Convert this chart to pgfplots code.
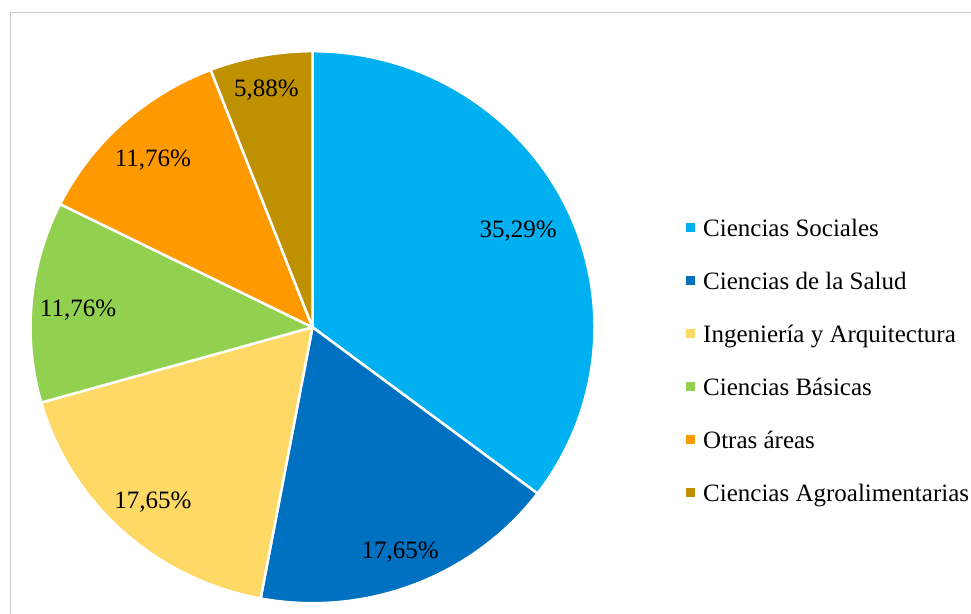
\documentclass[border=0pt]{standalone}
\usepackage{fontspec}
\setmainfont{Liberation Serif}
\usepackage{pgfplots}
\usepackage{pgfplotstable}
\pgfplotsset{compat=1.18}

\definecolor{c0}{HTML}{00B0F0}
\definecolor{c1}{HTML}{0070C0}
\definecolor{c2}{HTML}{FFD966}
\definecolor{c3}{HTML}{92D050}
\definecolor{c4}{HTML}{FF9900}
\definecolor{c5}{HTML}{BF9000}

% name, share in percent, label distance (fraction of radius)
\pgfplotstableread[col sep=comma]{
name,value,lr
Ciencias Sociales,35.29,0.815
Ciencias de la Salud,17.65,0.86
Ingeniería y Arquitectura,17.65,0.84
Ciencias Básicas,11.76,0.835
Otras áreas,11.76,0.84
Ciencias Agroalimentarias,5.88,0.89
}\piedata

\begin{document}
\begin{tikzpicture}
\begin{axis}[
  width=971bp, height=614bp, scale only axis,
  xmin=0, xmax=971, ymin=0, ymax=614, y dir=reverse,
  hide axis, clip=false,
]
\pgfplotsextra{
  \coordinate (BL) at (axis cs:0,614);
  \coordinate (TR) at (axis cs:971,0);
  \draw[gray!40, line width=1.5bp] (axis cs:10.5,614) -- (axis cs:10.5,12.5) -- (axis cs:971,12.5);
  % total
  \def\tot{0}
  \pgfplotsforeachungrouped \i in {0,...,5}{%
    \pgfplotstablegetelem{\i}{value}\of\piedata
    \pgfmathsetmacro\tot{\tot+\pgfplotsretval}%
  }%
  \def\cum{0}
  \pgfplotsforeachungrouped \i in {0,...,5}{%
    \pgfplotstablegetelem{\i}{value}\of\piedata \let\val\pgfplotsretval
    \pgfplotstablegetelem{\i}{lr}\of\piedata \let\lr\pgfplotsretval
    \pgfplotstablegetelem{\i}{name}\of\piedata \let\nm\pgfplotsretval
    \pgfmathsetmacro\sa{90-\cum/\tot*360}%
    \pgfmathsetmacro\ea{90-(\cum+\val)/\tot*360}%
    \pgfmathsetmacro\ma{(\sa+\ea)/2}%
    \pgfmathsetmacro\lx{\lr*282}%
    \pgfmathsetmacro\ly{\lr*276}%
    \fill[c\i, draw=white, line width=2.5bp, line join=round]
      (axis cs:312.5,327.2) -- ++(\sa:282bp and 276bp)
      arc[start angle=\sa, end angle=\ea, x radius=282bp, y radius=276bp] -- cycle;
    \path (axis cs:312.5,327.2) ++(\ma:\lx bp and \ly bp)
      node[font=\fontsize{25bp}{30bp}\selectfont, inner sep=0pt, yshift=-4bp]
      {\pgfmathprintnumber[assume math mode=true, fixed, fixed zerofill, precision=2, use comma]{\val}\%};
    \pgfmathsetmacro\cum{\cum+\val}%
    % legend entry
    \pgfmathsetmacro\bl{236.8+52.95*\i}%
    \fill[c\i] (axis cs:686,\bl-14) rectangle (axis cs:695,\bl-4.7);
    \node[anchor=base west, inner sep=0pt, font=\fontsize{25bp}{30bp}\selectfont]
      at (axis cs:703,\bl) {\nm};
  }%
}
\end{axis}
\pgfresetboundingbox
\path (BL) rectangle (TR);
\end{tikzpicture}
\end{document}
